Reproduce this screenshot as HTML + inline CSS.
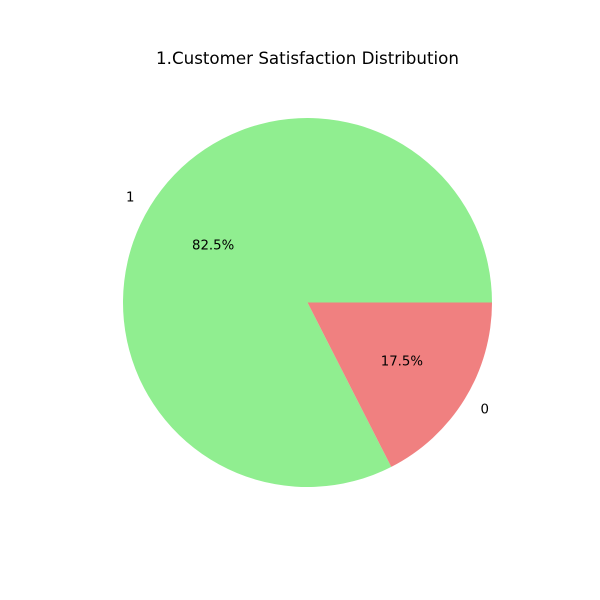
<!DOCTYPE html>
<html><head><meta charset="utf-8"><style>
html,body{margin:0;padding:0;background:#fff;}
svg{display:block;font-family:"DejaVu Sans","Liberation Sans",sans-serif;}
</style></head><body>
<svg id="chart" width="600" height="600" viewBox="0 0 600 600">
<rect width="600" height="600" fill="#fff"/>
<text x="307.5" y="64" text-anchor="middle" font-size="16.7" fill="#000">1.Customer Satisfaction Distribution</text>
</svg>
<script>
const categories = ["1", "0"];
const values = [82.5, 17.5];
const colors = ["#90ee90", "#f08080"];

const svg = document.getElementById('chart');
const NS = 'http://www.w3.org/2000/svg';
const cx = 307.5, cy = 302.5, r = 184.5;
const total = values.reduce((a, b) => a + b, 0);
function pt(deg, rad) {
  const a = deg * Math.PI / 180;
  return [cx + rad * Math.cos(a), cy - rad * Math.sin(a)];
}
let start = 0;
values.forEach((v, i) => {
  const sweep = v / total * 360;
  const end = start + sweep;
  const [x1, y1] = pt(start, r);
  const [x2, y2] = pt(end, r);
  const large = sweep > 180 ? 1 : 0;
  const p = document.createElementNS(NS, 'path');
  p.setAttribute('d', `M${cx},${cy} L${x1},${y1} A${r},${r} 0 ${large} 0 ${x2},${y2} Z`);
  p.setAttribute('fill', colors[i]);
  
  
  svg.appendChild(p);

  const mid = start + sweep / 2;
  const [lx, ly] = pt(mid, r * 1.1);
  const t = document.createElementNS(NS, 'text');
  t.setAttribute('x', lx);
  t.setAttribute('y', ly + 5);
  t.setAttribute('font-size', '13.3');
  t.setAttribute('text-anchor', Math.cos(mid * Math.PI / 180) >= 0 ? 'start' : 'end');
  t.textContent = categories[i];
  
  
  svg.appendChild(t);

  const [px, py] = pt(mid, r * 0.6);
  const pc = document.createElementNS(NS, 'text');
  pc.setAttribute('x', px);
  pc.setAttribute('y', py + 5);
  pc.setAttribute('font-size', '13.3');
  pc.setAttribute('text-anchor', 'middle');
  pc.textContent = (v / total * 100).toFixed(1) + '%';
  
  
  svg.appendChild(pc);

  start = end;
});
</script>
</body></html>
